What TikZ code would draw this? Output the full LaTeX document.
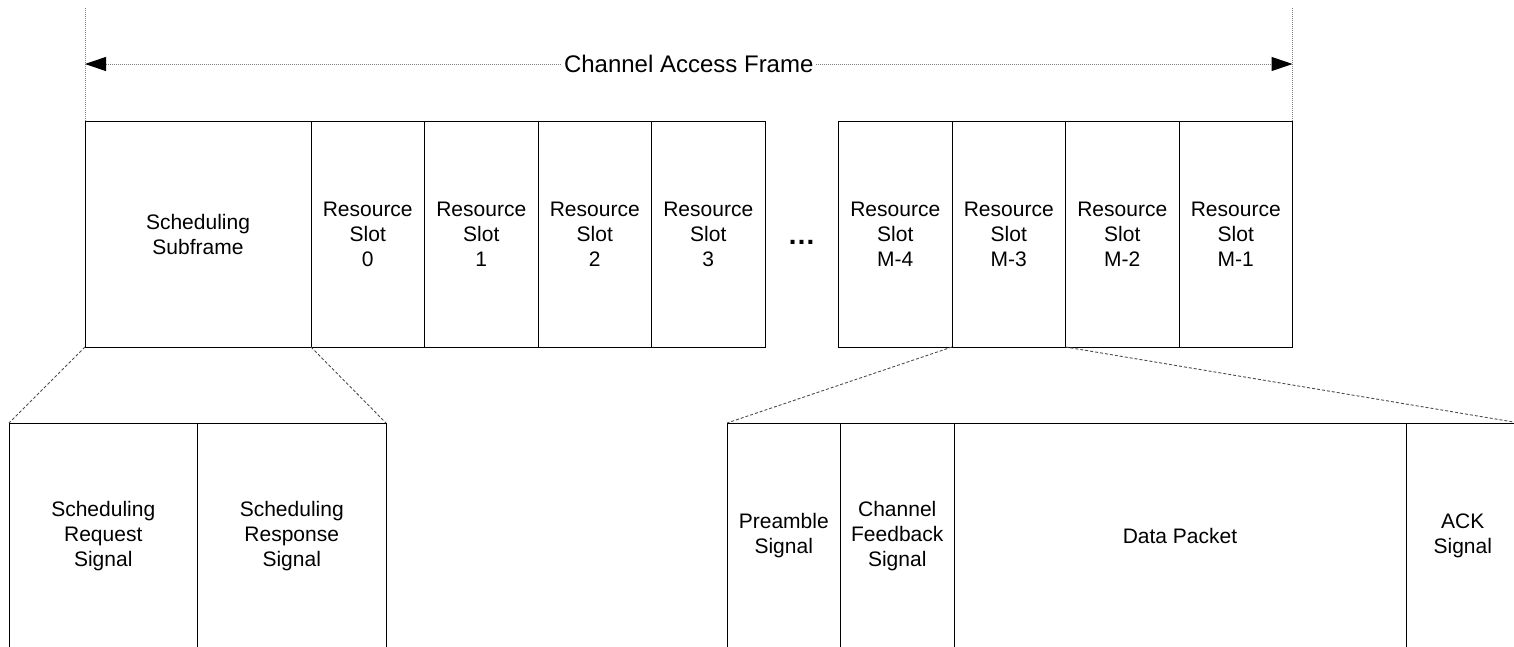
\documentclass[tikz,border=0pt]{standalone}
\usepackage{fontspec}
\setmainfont{Liberation Sans}
\usetikzlibrary{positioning, arrows.meta}
\newcommand{\lab}{\fontsize{21}{25}\selectfont}
\newcommand{\ttl}{\fontsize{24}{24}\selectfont}
\tikzset{frametip/.tip={Triangle[length=21pt,width=14pt,color=black]}}
\begin{document}
\begin{tikzpicture}[x=1pt,y=1pt,
  box/.style={draw, line width=1pt, outer sep=0pt, inner sep=0pt, align=center, font=\lab, minimum height=226pt},
  slotbox/.style={box, minimum width=113.5pt},
  zoomline/.style={line width=0.9pt, gray!60!black, dash pattern=on 3pt off 2pt},
  guide/.style={line width=1pt, gray, dash pattern=on 1pt off 1pt}]
\useasboundingbox (0,0) rectangle (1514,-646);
\clip (0,0) rectangle (1514,-646);
% top row
\node[box, anchor=north west, minimum width=226pt] (sched) at (85,-121) {Scheduling\\Subframe};
\node[slotbox, right=0pt of sched] (s0) {Resource\\Slot\\0};
\node[slotbox, right=0pt of s0] (s1) {Resource\\Slot\\1};
\node[slotbox, right=0pt of s1] (s2) {Resource\\Slot\\2};
\node[slotbox, right=0pt of s2] (s3) {Resource\\Slot\\3};
\node[font=\bfseries\fontsize{28}{28}\selectfont, anchor=base] (dots) at (801.5,-244) {…};
\node[slotbox, anchor=north west] (sm4) at (838.5,-121) {Resource\\Slot\\M-4};
\node[slotbox, right=0pt of sm4] (sm3) {Resource\\Slot\\M-3};
\node[slotbox, right=0pt of sm3] (sm2) {Resource\\Slot\\M-2};
\node[slotbox, right=0pt of sm2] (sm1) {Resource\\Slot\\M-1};
% frame arrow
\coordinate (ltop) at (85,-8);
\coordinate (rtop) at (1292.5,-8);
\coordinate (la) at (85,-64);
\coordinate (ra) at (1292.5,-64);
\draw[guide] (ltop) -- (sched.north west);
\draw[guide] (rtop) -- (sm1.north east);
\draw[guide, frametip-frametip] (la) -- node[fill=white, text=black, inner xsep=2pt, inner ysep=1pt, font=\ttl] (frame) {Channel Access Frame} (ra);
% bottom left
\node[box, anchor=north west, minimum width=188.5pt] (req) at (9,-423) {Scheduling\\Request\\Signal};
\node[box, minimum width=188.5pt, right=0pt of req] (resp) {Scheduling\\Response\\Signal};
% bottom right
\node[slotbox, anchor=north west] (pre) at (727,-423) {Preamble\\Signal};
\node[slotbox, right=0pt of pre] (fb) {Channel\\Feedback\\Signal};
\node[box, minimum width=452pt, right=0pt of fb] (data) {Data Packet};
\node[slotbox, right=0pt of data] (ack) {ACK\\Signal};
\draw[zoomline] (sched.south west) -- (req.north west);
\draw[zoomline] (sched.south east) -- (resp.north east);
\draw[zoomline] (sm3.south west) -- (pre.north west);
\draw[zoomline] (sm3.south east) -- (ack.north east);
\end{tikzpicture}
\end{document}
